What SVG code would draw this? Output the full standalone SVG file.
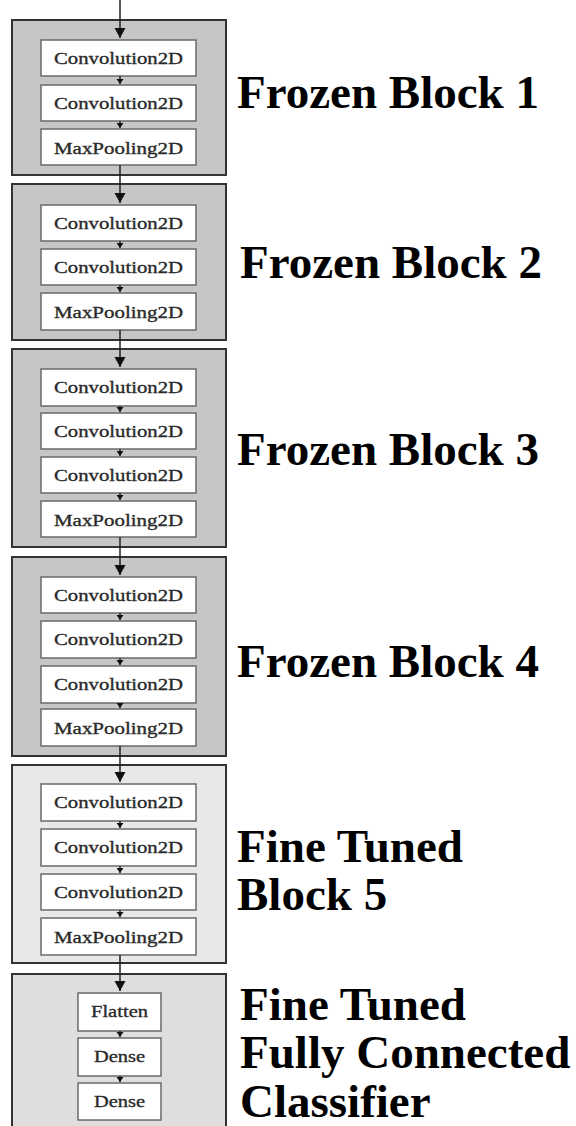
<svg xmlns="http://www.w3.org/2000/svg" width="576" height="1126" viewBox="0 0 576 1126">
  <style>
    .block { stroke: #333; stroke-width: 2; }
    .frozen { fill: #c6c6c6; }
    .tuned { fill: #e8e8e8; }
    .clf { fill: #dedede; }
    .layer { fill: #fff; stroke: #6a6a6a; stroke-width: 1.5; }
    .lt { font-family: "Liberation Serif", "Times New Roman", serif; font-size: 17px; fill: #2a2a2a; stroke: #2a2a2a; stroke-width: 0.35; text-anchor: middle; }
    .title { font-family: "Liberation Serif", "Times New Roman", serif; font-size: 47px; font-weight: bold; fill: #000; }
    .wire { stroke: #222; stroke-width: 1.5; fill: none; }
    .big { marker-end: url(#headBig); }
    .small { marker-end: url(#headSmall); }
  </style>
  <defs>
    <marker id="headBig" markerUnits="userSpaceOnUse" markerWidth="12" markerHeight="12" refX="10" refY="5.5" orient="auto">
      <path d="M0,0 L10,5.5 L0,11 z" fill="#111"/>
    </marker>
    <marker id="headSmall" markerUnits="userSpaceOnUse" markerWidth="8" markerHeight="8" refX="5" refY="3.5" orient="auto">
      <path d="M0,0 L5,3.5 L0,7 z" fill="#111"/>
    </marker>
  </defs>
  <rect width="576" height="1126" fill="#fff"/>

  <!-- Block 1 -->
  <g id="block1">
    <rect class="block frozen" x="12" y="20" width="214" height="155"/>
    <rect class="layer" x="41" y="40" width="155" height="36"/>
    <text class="lt" x="118.5" y="64" textLength="129" lengthAdjust="spacingAndGlyphs">Convolution2D</text>
    <rect class="layer" x="41" y="85" width="155" height="36"/>
    <text class="lt" x="118.5" y="109" textLength="129" lengthAdjust="spacingAndGlyphs">Convolution2D</text>
    <rect class="layer" x="41" y="129" width="155" height="36"/>
    <text class="lt" x="118.5" y="154" textLength="129" lengthAdjust="spacingAndGlyphs">MaxPooling2D</text>
    <text class="title" x="237" y="108">Frozen Block 1</text>
  </g>

  <!-- Block 2 -->
  <g id="block2">
    <rect class="block frozen" x="12" y="184" width="214" height="156"/>
    <rect class="layer" x="41" y="205" width="155" height="36"/>
    <text class="lt" x="118.5" y="229" textLength="129" lengthAdjust="spacingAndGlyphs">Convolution2D</text>
    <rect class="layer" x="41" y="249" width="155" height="36"/>
    <text class="lt" x="118.5" y="273" textLength="129" lengthAdjust="spacingAndGlyphs">Convolution2D</text>
    <rect class="layer" x="41" y="293" width="155" height="37"/>
    <text class="lt" x="118.5" y="318" textLength="129" lengthAdjust="spacingAndGlyphs">MaxPooling2D</text>
    <text class="title" x="240" y="278">Frozen Block 2</text>
  </g>

  <!-- Block 3 -->
  <g id="block3">
    <rect class="block frozen" x="12" y="349" width="214" height="198"/>
    <rect class="layer" x="41" y="369" width="155" height="37"/>
    <text class="lt" x="118.5" y="393" textLength="129" lengthAdjust="spacingAndGlyphs">Convolution2D</text>
    <rect class="layer" x="41" y="413" width="155" height="36"/>
    <text class="lt" x="118.5" y="437" textLength="129" lengthAdjust="spacingAndGlyphs">Convolution2D</text>
    <rect class="layer" x="41" y="457" width="155" height="36"/>
    <text class="lt" x="118.5" y="481" textLength="129" lengthAdjust="spacingAndGlyphs">Convolution2D</text>
    <rect class="layer" x="41" y="501" width="155" height="36"/>
    <text class="lt" x="118.5" y="526" textLength="129" lengthAdjust="spacingAndGlyphs">MaxPooling2D</text>
    <text class="title" x="237" y="465">Frozen Block 3</text>
  </g>

  <!-- Block 4 -->
  <g id="block4">
    <rect class="block frozen" x="12" y="557" width="214" height="199"/>
    <rect class="layer" x="41" y="577" width="155" height="36"/>
    <text class="lt" x="118.5" y="601" textLength="129" lengthAdjust="spacingAndGlyphs">Convolution2D</text>
    <rect class="layer" x="41" y="621" width="155" height="37"/>
    <text class="lt" x="118.5" y="645" textLength="129" lengthAdjust="spacingAndGlyphs">Convolution2D</text>
    <rect class="layer" x="41" y="666" width="155" height="37"/>
    <text class="lt" x="118.5" y="690" textLength="129" lengthAdjust="spacingAndGlyphs">Convolution2D</text>
    <rect class="layer" x="41" y="709" width="155" height="37"/>
    <text class="lt" x="118.5" y="734" textLength="129" lengthAdjust="spacingAndGlyphs">MaxPooling2D</text>
    <text class="title" x="237" y="677">Frozen Block 4</text>
  </g>

  <!-- Block 5 -->
  <g id="block5">
    <rect class="block tuned" x="12" y="765" width="214" height="198"/>
    <rect class="layer" x="41" y="784" width="155" height="37"/>
    <text class="lt" x="118.5" y="808" textLength="129" lengthAdjust="spacingAndGlyphs">Convolution2D</text>
    <rect class="layer" x="41" y="829" width="155" height="37"/>
    <text class="lt" x="118.5" y="853" textLength="129" lengthAdjust="spacingAndGlyphs">Convolution2D</text>
    <rect class="layer" x="41" y="874" width="155" height="36"/>
    <text class="lt" x="118.5" y="898" textLength="129" lengthAdjust="spacingAndGlyphs">Convolution2D</text>
    <rect class="layer" x="41" y="918" width="155" height="37"/>
    <text class="lt" x="118.5" y="943" textLength="129" lengthAdjust="spacingAndGlyphs">MaxPooling2D</text>
    <text class="title" x="237" y="862">Fine Tuned</text>
    <text class="title" x="237" y="910">Block 5</text>
  </g>

  <!-- Classifier head -->
  <g id="classifier">
    <rect class="block clf" x="12" y="974" width="214" height="170"/>
    <rect class="layer" x="78" y="993" width="83" height="38"/>
    <text class="lt" x="119.5" y="1017" textLength="57" lengthAdjust="spacingAndGlyphs">Flatten</text>
    <rect class="layer" x="78" y="1038" width="83" height="38"/>
    <text class="lt" x="119.5" y="1062" textLength="51" lengthAdjust="spacingAndGlyphs">Dense</text>
    <rect class="layer" x="78" y="1083" width="83" height="37"/>
    <text class="lt" x="119.5" y="1107" textLength="51" lengthAdjust="spacingAndGlyphs">Dense</text>
    <text class="title" x="240" y="1020">Fine Tuned</text>
    <text class="title" x="240" y="1068">Fully Connected</text>
    <text class="title" x="240" y="1117">Classifier</text>
  </g>

  <!-- Connectors -->
  <g id="connectors">
    <line class="wire big" x1="120" y1="0" x2="120" y2="38"/>
    <line class="wire small" x1="120" y1="76" x2="120" y2="84"/>
    <line class="wire small" x1="120" y1="121" x2="120" y2="128"/>
    <line class="wire big" x1="120" y1="165" x2="120" y2="203"/>
    <line class="wire small" x1="120" y1="241" x2="120" y2="248"/>
    <line class="wire small" x1="120" y1="285" x2="120" y2="292"/>
    <line class="wire big" x1="120" y1="330" x2="120" y2="367"/>
    <line class="wire small" x1="120" y1="406" x2="120" y2="412"/>
    <line class="wire small" x1="120" y1="449" x2="120" y2="456"/>
    <line class="wire small" x1="120" y1="493" x2="120" y2="500"/>
    <line class="wire big" x1="120" y1="537" x2="120" y2="575"/>
    <line class="wire small" x1="120" y1="613" x2="120" y2="620"/>
    <line class="wire small" x1="120" y1="658" x2="120" y2="665"/>
    <line class="wire small" x1="120" y1="703" x2="120" y2="708"/>
    <line class="wire big" x1="120" y1="746" x2="120" y2="782"/>
    <line class="wire small" x1="120" y1="821" x2="120" y2="828"/>
    <line class="wire small" x1="120" y1="866" x2="120" y2="873"/>
    <line class="wire small" x1="120" y1="910" x2="120" y2="917"/>
    <line class="wire big" x1="120" y1="955" x2="120" y2="991"/>
    <line class="wire small" x1="120" y1="1031" x2="120" y2="1037"/>
    <line class="wire small" x1="120" y1="1076" x2="120" y2="1082"/>
  </g>
</svg>
